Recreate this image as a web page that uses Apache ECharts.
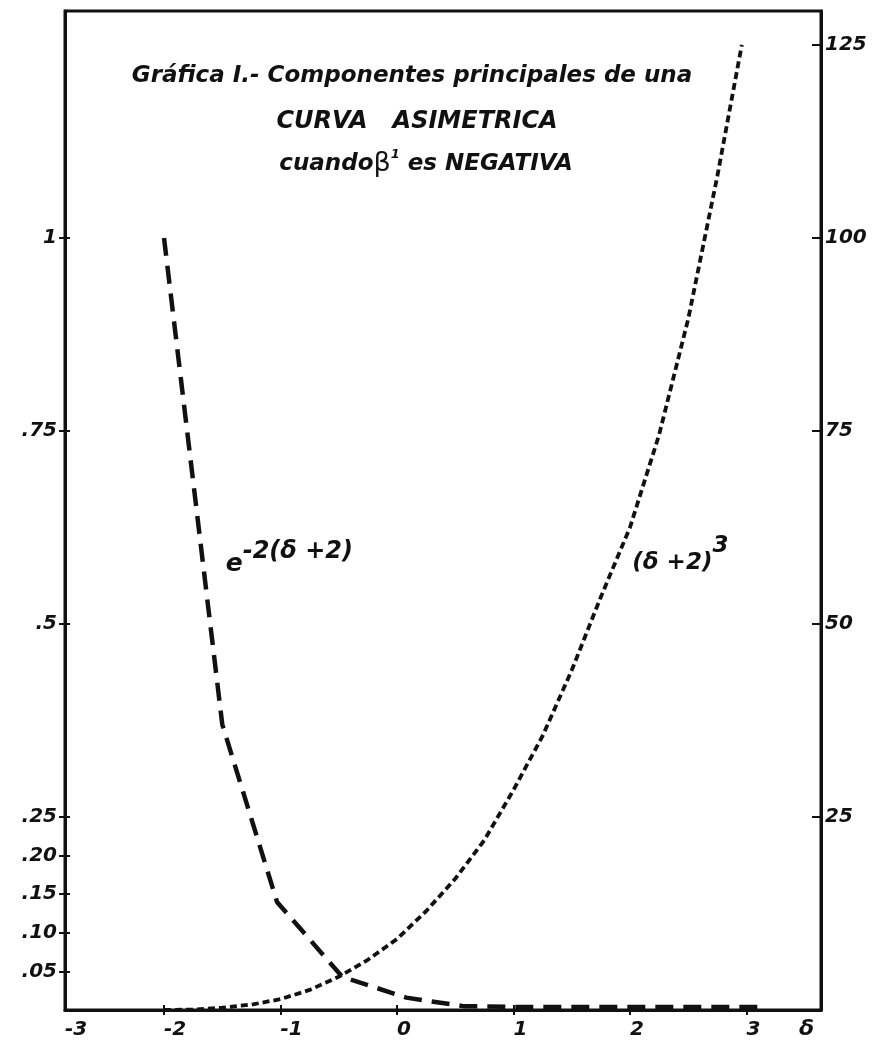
<!DOCTYPE html>
<html>
<head>
<meta charset="utf-8">
<script src="https://cdn.jsdelivr.net/npm/echarts@6.0.0/dist/echarts.min.js"></script>
<style>
  html, body { margin: 0; padding: 0; background: #fff; }
  #chart { width: 880px; height: 1042px; }
</style>
</head>
<body>
<div id="chart"></div>
<script>
// e^{-2(δ+2)} (left scale)
const expDelta = [-2, -1.5, -1.03, -0.47, 0.08, 0.57, 1.0, 2.0, 3.1];
const expValue = [1.0, 0.37, 0.14, 0.043, 0.016, 0.005, 0.004, 0.004, 0.004];

// (δ+2)^3 (right scale)
const cubeDelta = [-2, -1.75, -1.5, -1.25, -1, -0.75, -0.5, -0.25, 0, 0.25, 0.5, 0.75, 1, 1.25, 1.5, 1.75, 2, 2.25, 2.5, 2.75, 2.96];
const cubeValue = [0, 0.05, 0.3, 0.7, 1.4, 2.6, 4.3, 6.5, 9.2, 12.8, 17, 22, 28.5, 35.5, 44, 53.5, 62.5, 74.5, 89.5, 108, 125];

// axes
const xMin = -2.85;
const xMax = 3.64;
const xTicks = [-2, -1, 0, 1, 2, 3];
const xLabelAt = [xMin, -2, -1, 0, 1, 2, 3];
const xLabels = ['-3', '-2', '-1', '0', '1', '2', '3'];

const leftMax = 1.294;
const leftTicks = [0.05, 0.10, 0.15, 0.20, 0.25, 0.5, 0.75, 1];
const leftLabels = ['.05', '.10', '.15', '.20', '.25', '.5', '.75', '1'];

const rightMax = 129.4;
const rightTicks = [25, 50, 75, 100, 125];
const rightLabels = ['25', '50', '75', '100', '125'];

const ink = '#111';
const labelFont = {
  color: ink,
  fontFamily: 'DejaVu Sans',
  fontStyle: 'italic',
  fontWeight: 'bold',
  fontSize: 20
};

function lookup(values, labels) {
  return (v) => {
    const i = values.findIndex((t) => Math.abs(t - v) < 1e-6);
    return i < 0 ? '' : labels[i];
  };
}

const chart = echarts.init(document.getElementById('chart'));

const titleStyle = {
  color: ink,
  fontFamily: 'DejaVu Sans',
  fontStyle: 'italic',
  fontWeight: 'bold',
  fontSize: 23
};

chart.setOption({
  animation: false,
  backgroundColor: '#fff',
  title: [
    { text: 'Gráfica I.- Componentes principales de una', left: 407, top: 60, textAlign: 'center', textStyle: titleStyle },
    { text: 'CURVA   ASIMETRICA', left: 412, top: 105, textAlign: 'center', textStyle: Object.assign({}, titleStyle, { fontSize: 24 }) },
    {
      text: '{n|cuando}{b|β}{s|1}{n| es NEGATIVA}',
      left: 421, top: 143, textAlign: 'center',
      textStyle: {
        rich: {
          n: Object.assign({}, titleStyle, { lineHeight: 32, verticalAlign: 'middle' }),
          b: Object.assign({}, titleStyle, { fontStyle: 'normal', fontWeight: 'normal', fontSize: 27, lineHeight: 32, verticalAlign: 'middle' }),
          s: Object.assign({}, titleStyle, { fontSize: 13, lineHeight: 32, verticalAlign: 'top' })
        }
      }
    }
  ],
  grid: {
    left: 65, right: 59, top: 11, bottom: 32,
    show: true, borderColor: ink, borderWidth: 3,
    outerBoundsMode: 'none'
  },
  xAxis: [
    {
      type: 'value', min: xMin, max: xMax,
      axisLine: { onZero: false, lineStyle: { color: ink, width: 3 } },
      axisTick: { customValues: xTicks, inside: false, length: 5, lineStyle: { color: ink, width: 2 } },
      axisLabel: Object.assign({ customValues: xLabelAt, formatter: lookup(xLabelAt, xLabels), align: 'left', margin: 10 }, labelFont),
      splitLine: { show: false },
      name: 'δ',
      nameLocation: 'end',
      nameGap: -22,
      nameTextStyle: Object.assign({}, labelFont, { fontSize: 22, verticalAlign: 'top', padding: [8, 0, 0, 0] })
    },
    {
      type: 'value', min: xMin, max: xMax, position: 'bottom',
      axisLine: { show: false, onZero: false },
      axisTick: { customValues: xTicks, inside: true, length: 5, lineStyle: { color: ink, width: 2 } },
      axisLabel: { show: false },
      splitLine: { show: false }
    }
  ],
  yAxis: [
    {
      type: 'value', position: 'left', min: 0, max: leftMax,
      axisLine: { show: true, onZero: false, lineStyle: { color: ink, width: 3 } },
      axisTick: { show: true, customValues: leftTicks, inside: false, length: 6, lineStyle: { color: ink, width: 2 } },
      axisLabel: Object.assign({ customValues: leftTicks, formatter: lookup(leftTicks, leftLabels), margin: 8 }, labelFont),
      splitLine: { show: false }
    },
    {
      type: 'value', position: 'left', min: 0, max: leftMax,
      axisLine: { show: false, onZero: false },
      axisTick: { show: true, customValues: leftTicks, inside: true, length: 5, lineStyle: { color: ink, width: 2 } },
      axisLabel: { show: false },
      splitLine: { show: false }
    },
    {
      type: 'value', position: 'right', min: 0, max: rightMax,
      axisLine: { show: true, onZero: false, lineStyle: { color: ink, width: 3 } },
      axisTick: { show: true, customValues: rightTicks, inside: true, length: 9, lineStyle: { color: ink, width: 2 } },
      axisLabel: Object.assign({ customValues: rightTicks, formatter: lookup(rightTicks, rightLabels), margin: 4 }, labelFont),
      splitLine: { show: false }
    }
  ],
  series: [
    {
      name: 'e^-2(δ+2)',
      type: 'line',
      xAxisIndex: 0,
      yAxisIndex: 0,
      data: expDelta.map((d, i) => [d, expValue[i]]),
      showSymbol: false,
      lineStyle: { color: ink, width: 4.5, type: [18, 10], cap: 'butt' },
      markPoint: {
        symbol: 'circle', symbolSize: 0,
        label: {
          show: true, position: 'right', distance: 0,
          formatter: '{e|e}{s|-2(δ +2)}',
          rich: {
            e: Object.assign({}, labelFont, { fontSize: 25, lineHeight: 38, verticalAlign: 'bottom' }),
            s: Object.assign({}, labelFont, { fontSize: 24, lineHeight: 38, verticalAlign: 'top' })
          }
        },
        data: [{ coord: [-1.47, 0.585] }]
      }
    },
    {
      name: '(δ+2)^3',
      type: 'line',
      xAxisIndex: 0,
      yAxisIndex: 2,
      data: cubeDelta.map((d, i) => [d, cubeValue[i]]),
      showSymbol: false,
      lineStyle: { color: ink, width: 3.8, type: [7, 4], cap: 'butt' },
      markPoint: {
        symbol: 'circle', symbolSize: 0,
        label: {
          show: true, position: 'right', distance: 0,
          formatter: '{t|(δ +2)}{s|3}',
          rich: {
            t: Object.assign({}, labelFont, { fontSize: 23, lineHeight: 40, verticalAlign: 'bottom' }),
            s: Object.assign({}, labelFont, { fontSize: 23, lineHeight: 40, verticalAlign: 'top' })
          }
        },
        data: [{ coord: [2.02, 59.0] }]
      }
    }
  ]
});
</script>
</body>
</html>
